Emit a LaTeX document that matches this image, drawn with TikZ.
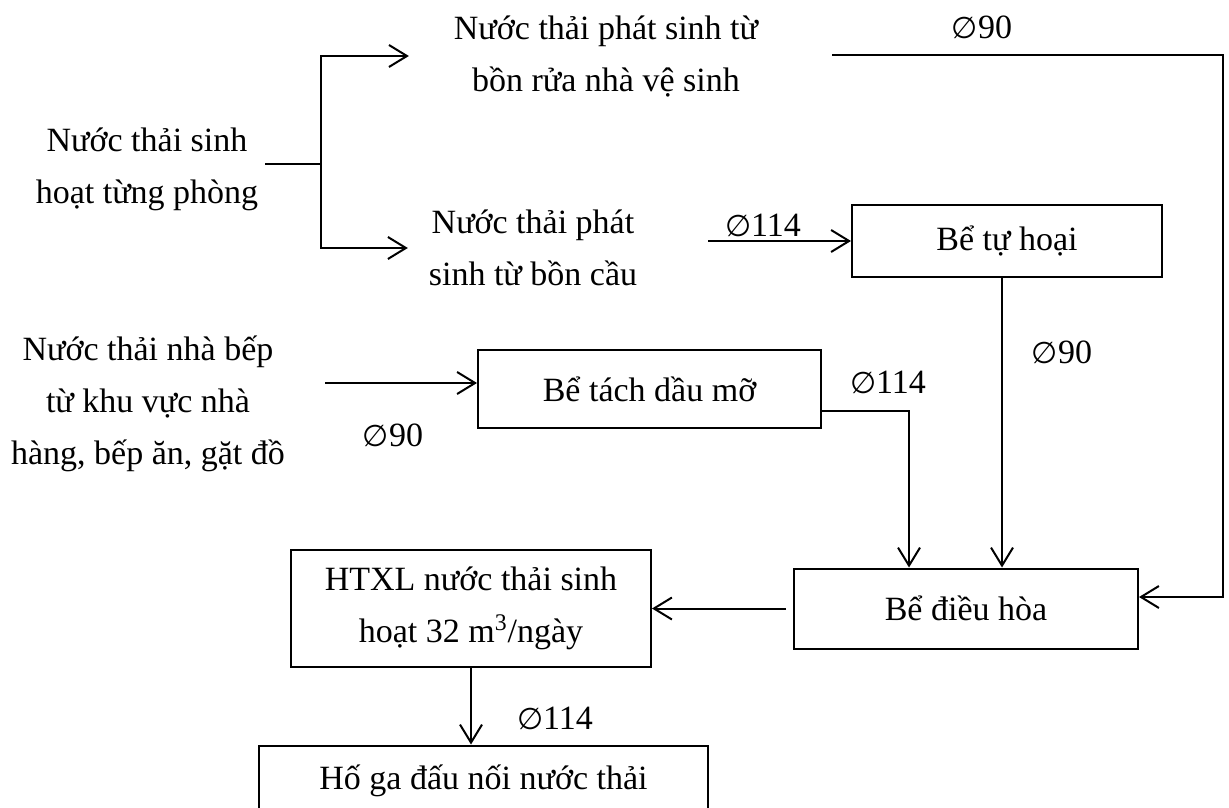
\documentclass[tikz,border=0pt]{standalone}
\usepackage{fontspec}
\setmainfont{Liberation Serif}
\newfontfamily\diafont{DejaVu Sans}
\newcommand{\dia}{{\diafont\fontsize{15}{26}\selectfont ∅}}
\usepackage{tikz}
\usetikzlibrary{arrows.meta,positioning}

\begin{document}
\begin{tikzpicture}[
      x=0.5pt,y=-0.5pt,
      font=\fontsize{17}{26}\selectfont,
      pipe/.style={-{Straight Barb[length=9pt,width=11pt]},line width=1pt},
      line/.style={line width=1pt},
      tank/.style={draw,line width=1pt,align=center},
      note/.style={align=center},
      size/.style={inner sep=0pt},
      ]
      \useasboundingbox (0,0) rectangle (1229,807);
      \clip (0,0) rectangle (1229,807);
      \fill[white] (0,0) rectangle (1229,807);

      % sources
      \node[note] (room) at (147,169) {Nước thải sinh\\hoạt từng phòng};
      \node[note] (sink) at (606,56) {Nước thải phát sinh từ\\bồn rửa nhà vệ sinh};
      \node[note] (wc) at (533,248) {Nước thải phát\\sinh từ bồn cầu};
      \node[note] (kitchen) at (148,404) {Nước thải nhà bếp\\từ khu vực nhà\\hàng, bếp ăn, gặt đồ};

      % tanks
      \node[tank,minimum width=155pt,minimum height=36pt] (septic) at (1007,241) {Bể tự hoại};
      \node[tank,minimum width=171.5pt,minimum height=39pt] (grease) at (649.5,389) {Bể tách dầu mỡ};
      \node[tank,minimum width=172pt,minimum height=40pt] (buffer) at (966,608.5) {Bể điều hòa};
      \node[tank,minimum width=180pt,minimum height=58.5pt] (plant) at (471,608.5) {HTXL nước thải sinh\\hoạt 32 m\textsuperscript{3}/ngày};
      \node[tank,minimum width=224.5pt,minimum height=35pt] (manhole) at (483.5,780.5) {Hố ga đấu nối nước thải};

      % pipe sizes
      \node[size] (d1) at (982,27) {\dia90};
      \node[size] (d2) at (763,225) {\dia114};
      \node[size] (d3) at (1062,352) {\dia90};
      \node[size] (d4) at (888,382) {\dia114};
      \node[size] (d5) at (393,435) {\dia90};
      \node[size] (d6) at (555,718) {\dia114};

      \coordinate (fork) at (321,164);
      \coordinate (topin) at (832,55);
      \coordinate (bend) at (1223,597);
      \coordinate (kin) at (325,383);

      \draw [line] (room.east |- fork) -- (fork);
      \draw [pipe] (fork) |- ([xshift=-19pt]sink.west);
      \draw [pipe] (fork) |- ([xshift=-7pt]wc.west);
      \draw [pipe] ([xshift=32pt]wc.east |- septic.west) -- (septic.west);
      \draw [pipe] (topin) -| (bend) -- (buffer.east |- bend);
      \draw [pipe] ([xshift=-2.5pt]septic.south) -- ([xshift=-2.5pt]septic.south |- buffer.north);
      \draw [pipe] (kin) -- (grease.west |- kin);
      \draw [pipe] ([yshift=-11pt]grease.east) -| ([xshift=-28.5pt]buffer.north);
      \draw [pipe,shorten <=3.5pt] (buffer.west) -- (plant.east);
      \draw [pipe] (plant.south) -- (plant.south |- manhole.north);
  \end{tikzpicture}
\end{document}
